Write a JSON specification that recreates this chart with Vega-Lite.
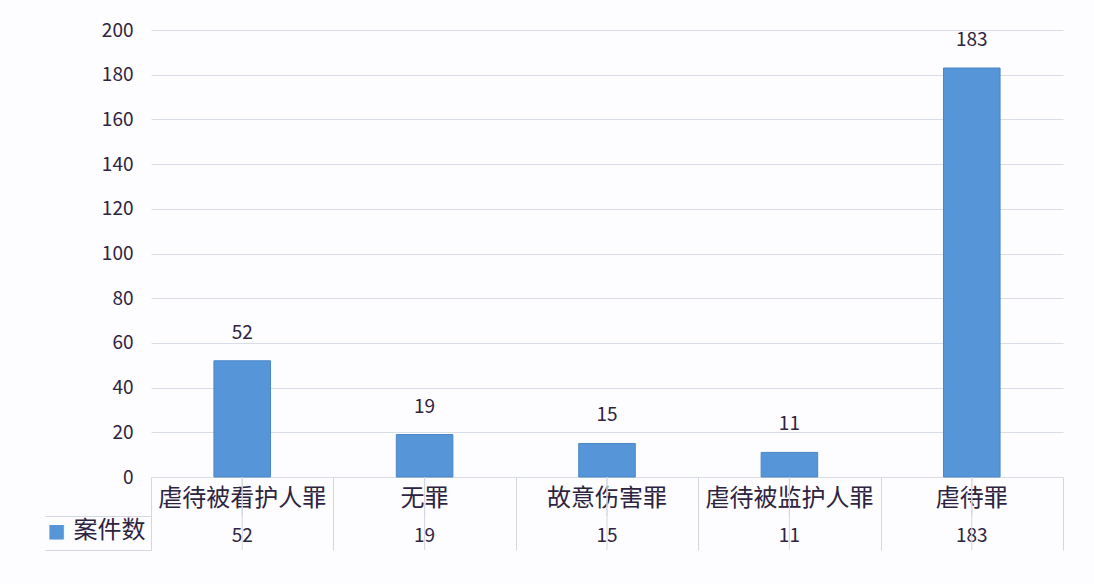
{
  "$schema": "https://vega.github.io/schema/vega-lite/v6.json",
  "description": "案件数 by 罪名, Excel-style bar chart with data table",
  "autosize": "none",
  "padding": {"left": 151, "top": 30, "right": 31, "bottom": 34},
  "width": 912,
  "height": 520,
  "background": "#fdfdff",
  "config": {
    "view": {"stroke": null},
    "font": "Noto Sans CJK SC",
    "text": {"font": "Noto Sans CJK SC", "color": "#2e2440"}
  },
  "data": {
    "values": [
      {"罪名": "虐待被看护人罪", "案件数": 52},
      {"罪名": "无罪", "案件数": 19},
      {"罪名": "故意伤害罪", "案件数": 15},
      {"罪名": "虐待被监护人罪", "案件数": 11},
      {"罪名": "虐待罪", "案件数": 183}
    ]
  },
  "layer": [
    {
      "encoding": {
        "x": {
          "field": "罪名",
          "type": "nominal",
          "sort": null,
          "scale": {"paddingInner": 0, "paddingOuter": 0},
          "axis": {
            "title": null,
            "orient": "bottom",
            "labels": false,
            "domain": false,
            "grid": false,
            "ticks": true,
            "tickBand": "extent",
            "tickSize": -73,
            "tickColor": "#d3d7df"
          }
        }
      },
      "layer": [
        {
          "mark": {"type": "bar", "color": "#5696d8", "stroke": "#4a86c6", "strokeWidth": 1, "width": {"band": 0.31}},
          "encoding": {
            "y": {
              "field": "案件数",
              "type": "quantitative",
              "scale": {"domain": [-32.66, 200], "nice": false, "zero": false},
              "axis": {
                "title": null,
                "values": [200, 180, 160, 140, 120, 100, 80, 60, 40, 20, 0, -17.45, -24.1, -32.66],
                "tickCount": 30,
                "labelExpr": "datum.value >= 0 ? datum.label : (abs(datum.value + 24.1) < 0.5 ? '案件数' : '')",
                "labelOverlap": false,
                "labelFont": "Noto Sans CJK SC",
                "labelFontSize": {"condition": {"test": "datum.value < 0", "value": 24}, "value": 19},
                "labelColor": "#2e2440",
                "labelPadding": {"condition": {"test": "datum.value < 0", "value": 6}, "value": 18},
                "domain": false,
                "ticks": true,
                "tickSize": {"condition": {"test": "datum.value < -30 || abs(datum.value + 17.45) < 0.5", "value": 106}, "value": 0},
                "tickColor": "#d3d7df",
                "grid": true,
                "gridColor": "#d9dde5",
                "gridOpacity": {"condition": {"test": "datum.value >= 0", "value": 1}, "value": 0}
              }
            }
          }
        },
        {
          "mark": {"type": "text", "fontSize": 19, "baseline": "alphabetic", "dy": -22},
          "encoding": {
            "y": {"field": "案件数", "type": "quantitative"},
            "text": {"field": "案件数"}
          }
        },
        {
          "mark": {"type": "text", "fontSize": 24, "baseline": "middle"},
          "encoding": {
            "y": {"datum": -9.8},
            "text": {"field": "罪名"}
          }
        },
        {
          "mark": {"type": "text", "fontSize": 19, "baseline": "middle"},
          "encoding": {
            "y": {"datum": -26.6},
            "text": {"field": "案件数"}
          }
        },
        {
          "mark": {"type": "rule", "color": "#d3d7df"},
          "encoding": {"y": {"datum": -17.45}}
        },
        {
          "mark": {"type": "rule", "color": "#d3d7df"},
          "encoding": {"y": {"datum": -32.66}}
        }
      ]
    },
    {
      "mark": {"type": "rule", "opacity": 0},
      "encoding": {
        "y": {
          "datum": 0,
          "type": "quantitative",
          "scale": {"domain": [-32.66, 200], "nice": false, "zero": false},
          "axis": {
            "orient": "left",
            "title": null,
            "values": [-25.1],
            "labelExpr": "'■'",
            "labelFont": "Noto Sans CJK SC",
            "labelFontSize": 18,
            "labelColor": "#5696d8",
            "labelPadding": 86,
            "ticks": false,
            "domain": false,
            "grid": false
          }
        }
      }
    }
  ],
  "resolve": {"scale": {"y": "independent"}, "axis": {"y": "independent"}}
}
